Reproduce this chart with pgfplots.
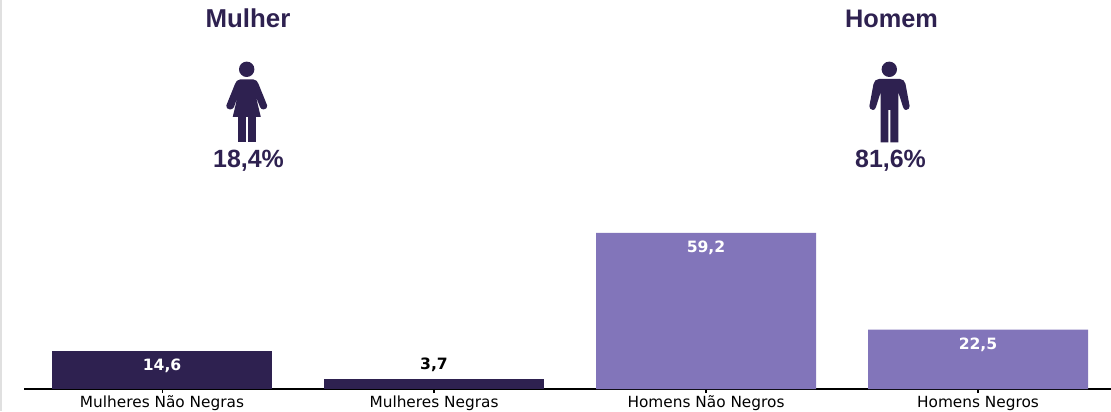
\documentclass[border=0pt]{standalone}
\usepackage{fontspec}
\setmainfont{DejaVu Sans}
\newfontfamily\headfont{Liberation Sans}
\usepackage{pgfplots}
\pgfplotsset{compat=1.18}
\definecolor{escuro}{HTML}{2E2150}
\definecolor{claro}{HTML}{8275BA}
\begin{document}
\begin{tikzpicture}
\useasboundingbox (0,0) rectangle (833.25pt,308.25pt);
\fill[black!12] (0,0) rectangle (1.5pt,308.25pt);
\begin{axis}[
    at={(18pt,16.5pt)}, anchor=south west,
    scale only axis,
    width=815.25pt, height=291.75pt,
    xmin=-0.5075, xmax=3.489,
    ymin=0, ymax=147.6,
    ybar, bar width=165pt, bar shift=0pt,
    axis x line=bottom, axis y line=none,
    axis line style={-, black, line width=1pt},
    xtick={0,1,2,3},
    xticklabels={Mulheres Não Negras,Mulheres Negras,Homens Não Negros,Homens Negros},
    xtick align=outside,
    xtick pos=bottom,
    major tick length=3pt,
    xtick style={draw=black, line width=.8pt},
    xticklabel style={font=\fontsize{11.5}{13}\selectfont, inner sep=0pt, text height=9pt, text depth=2.5pt, yshift=-1.6pt},
    clip=false,
    point meta=explicit symbolic,
    nodes near coords,
    every node near coord/.append style={font=\fontsize{11.7}{13}\selectfont\bfseries},
    ]
% mulheres, rotulo dentro da barra
\addplot[fill=escuro, draw=none, every node near coord/.append style={text=white, anchor=center, yshift=-11.4pt}]
    coordinates {(0,14.6) [14,6]};
% barra baixa, rotulo por cima
\addplot[fill=escuro, draw=none, every node near coord/.append style={text=black, anchor=center, yshift=10.5pt}]
    coordinates {(1,3.7) [3,7]};
% homens
\addplot[fill=claro, draw=none, every node near coord/.append style={text=white, anchor=center, yshift=-11.4pt}]
    coordinates {(2,59.2) [59,2] (3,22.5) [22,5]};
\end{axis}
\begin{scope}[x=.75pt, y=-.75pt, yshift=308.25pt]
  % titulos
  \node[text=escuro, font=\headfont\bfseries\fontsize{19.4}{22}\selectfont] at (248,18.5) {Mulher};
  \node[text=escuro, font=\headfont\bfseries\fontsize{19}{22}\selectfont] at (891.5,19) {Homem};
  \node[text=escuro, font=\headfont\bfseries\fontsize{18.7}{22}\selectfont] at (248.5,161) {18,4\%};
  \node[text=escuro, font=\headfont\bfseries\fontsize{18.7}{22}\selectfont] at (890.5,161) {81,6\%};
  % icone mulher
  \fill[escuro] (246.7,69.3) circle[radius=7.7];
  \fill[escuro] (240,79.5) to[out=0,in=180] (253.5,79.5) to[out=0,in=110] (258.5,84) -- (267.2,105.5) to[out=-70,in=0] (263.5,109.5) to[out=180,in=-60] (260,107) -- (256,97) -- (260.8,117) -- (232.7,117) -- (237.5,97) -- (234,107) to[out=-120,in=0] (230,109.5) to[out=180,in=-110] (226.3,105.5) -- (235,84) to[out=70,in=180] cycle;
  \fill[escuro] (237.7,116) rectangle (245.7,142.3);
  \fill[escuro] (248.3,116) rectangle (256,142.3);
  % icone homem
  \fill[escuro] (889.3,69.3) circle[radius=7.7];
  \fill[escuro] (879,79) -- (900,79) to[out=0,in=100] (905.5,84) -- (909.6,106) to[out=-80,in=0] (906,110) to[out=180,in=-70] (903,107) -- (898.3,92) -- (898.3,142.3) -- (890.4,142.3) -- (890.4,110) -- (888.4,110) -- (888.4,142.3) -- (880.7,142.3) -- (880.7,92) -- (876,107) to[out=-110,in=0] (873,110) to[out=180,in=-100] (869.4,106) -- (873.5,84) to[out=80,in=180] cycle;
\end{scope}
\end{tikzpicture}
\end{document}
